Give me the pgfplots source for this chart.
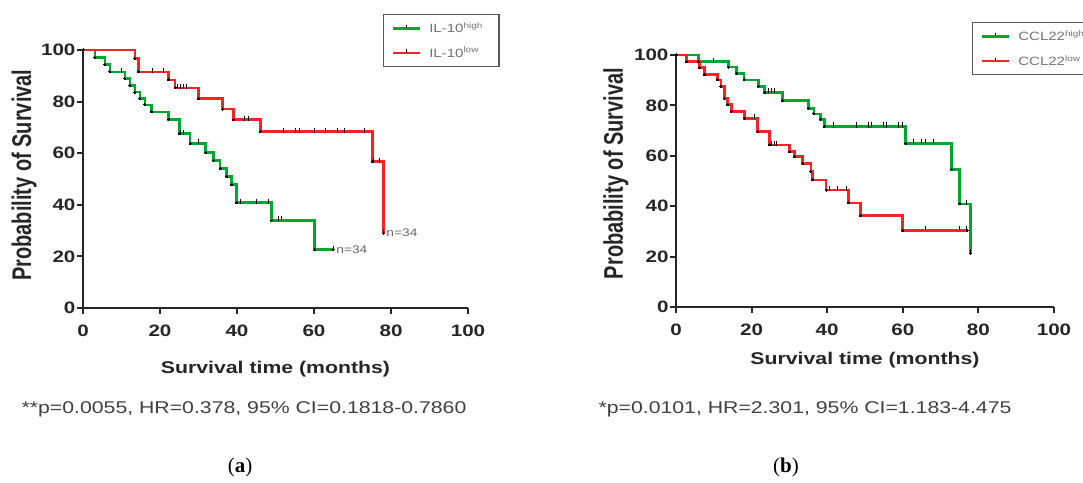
\documentclass[border=0pt]{standalone}
\usepackage{pgfplots}
\pgfplotsset{compat=1.18}
\usepackage{fontspec}
\setmainfont{Liberation Sans}
\newfontfamily\wsans[FakeStretch=1.25]{Liberation Sans}
\newfontfamily\serifA{Liberation Serif}
\definecolor{kmgreen}{RGB}{0,168,45}
\definecolor{kmred}{RGB}{245,35,35}
\pgfplotsset{
  kmaxis/.style={
    scale only axis, anchor=south west,
    xmin=0,xmax=100,ymin=0,ymax=100,
    axis x line*=bottom, axis y line*=left,
    axis line style={line width=2.1pt,-,black!85},
    xtick={0,20,...,100}, ytick={0,20,...,100},
    tick align=outside, major tick length=6pt,
    every tick/.style={black!85,line width=2pt},
    /pgf/number format/assume math mode=true,
    ticklabel style={font=\wsans\bfseries\fontsize{16.5}{16.5}\selectfont, text=black!85},
    xticklabel style={yshift=-7pt},
    yticklabel style={xshift=2pt},
    xlabel style={font=\wsans\bfseries\fontsize{17}{17}\selectfont, text=black!85, anchor=center},
    ylabel style={font=\bfseries\fontsize{20}{20}\selectfont, text=black!85, anchor=center},
    clip=false,
    legend cell align=left,
    legend image code/.code={
      \draw[#1] (0pt,0pt) -- (27pt,0pt);
      \draw[black,line width=0.9pt] (13.5pt,0pt) -- (13.5pt,3.5pt);
    },
    legend style={anchor=north west, draw=black!65, line width=1.2pt,
      font=\wsans\fontsize{12}{12}\selectfont, text=black!55,
      inner xsep=8pt, inner ysep=6pt, row sep=9pt,
      nodes={inner xsep=8pt}},
  },
  step/.style={const plot, line width=2.8pt, mark=*, mark size=1pt, mark options={black, solid, line width=0pt}},
  cens/.style={only marks, mark=|, mark size=2.6pt, mark options={black, line width=1pt, yshift=1.5pt}, forget plot},
}
\begin{document}
\begin{tikzpicture}[x=1pt,y=1pt]
\useasboundingbox (0,0) rectangle (1083,482);
\clip (0,0) rectangle (1083,482);
% ---------- panel (a)
\begin{axis}[kmaxis, at={(83pt,174pt)}, width=385pt, height=258pt,
  xlabel={Survival time (months)},
  ylabel={\scalebox{1}[1.35]{Probability of Survival}},
  xlabel style={at={(rel axis cs:0.5,-0.237)}},
  ylabel style={at={(rel axis cs:-0.153,0.515)}},
  legend style={at={(rel axis cs:0.779,1.14)}}]
\addplot[step, kmgreen, forget plot] coordinates {
(0,100) (3.1,97.1) (5.7,94.3) (7.0,91.5) (10.9,88.8) (12.2,86.2) (13.5,83.7)
(14.8,81.2) (16.1,78.7) (17.8,76.0) (22.2,73.2) (25.0,67.5) (27.8,63.8)
(31.9,60.3) (33.9,57.2) (35.6,54.1) (37.3,51.0) (38.6,47.8) (39.9,40.8)
(49.0,34.0) (60.2,22.6) (65,22.6)};
\addplot[cens] coordinates {
(10,91.5) (25.3,67.5) (26,67.5) (30,63.8) (40.8,40.8) (45.1,40.8) (48.1,40.8)
(50.7,34) (51.6,34) (65,22.6)};
\addplot[step, kmred, forget plot] coordinates {
(0,100) (13.5,96.8) (14.4,91.5) (22.2,88.4) (23.9,85.3) (30,81.2) (36.3,77.1)
(39,73) (46,68.3) (75.2,56.7) (78,29)};
\addplot[cens] coordinates {
(18.1,91.5) (21,91.5) (24.5,85.3) (25.3,85.3) (26,85.3) (27,85.3) (42,73) (43,73)
(52,68.3) (55.3,68.3) (56.2,68.3) (60,68.3) (63,68.3) (66,68.3) (68,68.3) (73,68.3)
(75.5,56.7) (77,56.7) (78,29)};
\addlegendimage{kmgreen, line width=2.8pt}
\addlegendentry{IL-10\textsuperscript{high}}
\addlegendimage{kmred, line width=2.8pt}
\addlegendentry{IL-10\textsuperscript{low}}
\node[anchor=west, font=\wsans\fontsize{11}{11}\selectfont, text=black!60, inner sep=1pt] at (axis cs:65.5,22.6) {n=34};
\node[anchor=west, font=\wsans\fontsize{11}{11}\selectfont, text=black!60, inner sep=1pt] at (axis cs:78.5,29) {n=34};
\end{axis}
% ---------- panel (b)
\begin{axis}[kmaxis, at={(676pt,175pt)}, width=378pt, height=252pt,
  xlabel={Survival time (months)},
  ylabel={\scalebox{1}[1.35]{Probability of Survival}},
  xlabel style={at={(rel axis cs:0.5,-0.212)}},
  ylabel style={at={(rel axis cs:-0.159,0.53)}},
  legend style={at={(rel axis cs:0.783,1.131)}}]
\addplot[step, kmgreen, forget plot] coordinates {
(0,100) (6.0,97.3) (13.8,95.2) (16,92.7) (18,90.1) (21.8,87.6) (23.5,85.2)
(28.2,81.9) (35,78.9) (36.5,76.6) (38.2,74.5) (39.2,71.6) (60.8,65)
(72.9,54.6) (75,40.9) (77.9,21.3)};
\addplot[cens] coordinates {
(9.9,97.3) (24.5,85.2) (25.3,85.2) (26.1,85.2) (41.7,71.6) (47.8,71.6) (50.9,71.6)
(51.8,71.6) (54.9,71.6) (55.8,71.6) (58.9,71.6) (59.8,71.6) (62.8,65) (65,65)
(65.9,65) (68.1,65) (76.8,40.9) (77.9,21.3)};
\addplot[step, kmred, forget plot] coordinates {
(0,100) (2.7,97.3) (6.2,95) (7.5,92.2) (11,90.1) (11.9,87.4) (12.8,82.8)
(13.7,80.2) (14.6,77.5) (18.1,74.9) (21.6,69.6) (24.7,64.3) (30,61.6)
(31.3,59.6) (33.5,57) (35.7,53.7) (36.2,50.4) (39.7,46.4) (45.7,41.3)
(48.8,36.3) (60,30.4) (77,30.4)};
\addplot[cens] coordinates {
(20.7,74.9) (25.3,64.3) (26,64.3) (26.7,64.3) (40.6,46.4) (42.8,46.4) (45,46.4)
(66.1,30.4) (75.1,30.4) (76.9,30.4)};
\addlegendimage{kmgreen, line width=2.8pt}
\addlegendentry{CCL22\textsuperscript{high}}
\addlegendimage{kmred, line width=2.8pt}
\addlegendentry{CCL22\textsuperscript{low}}
\end{axis}
% ---------- captions
\node[font=\wsans\fontsize{17}{17}\selectfont, text=black!75] at (244,73) {**p=0.0055, HR=0.378, 95\% CI=0.1818-0.7860};
\node[font=\wsans\fontsize{17}{17}\selectfont, text=black!75] at (805,73) {*p=0.0101, HR=2.301, 95\% CI=1.183-4.475};
\node[font=\serifA\fontsize{21}{21}\selectfont] at (240,15) {(\textbf{a})};
\node[font=\serifA\fontsize{21}{21}\selectfont] at (786,15) {(\textbf{b})};
\end{tikzpicture}
\end{document}
